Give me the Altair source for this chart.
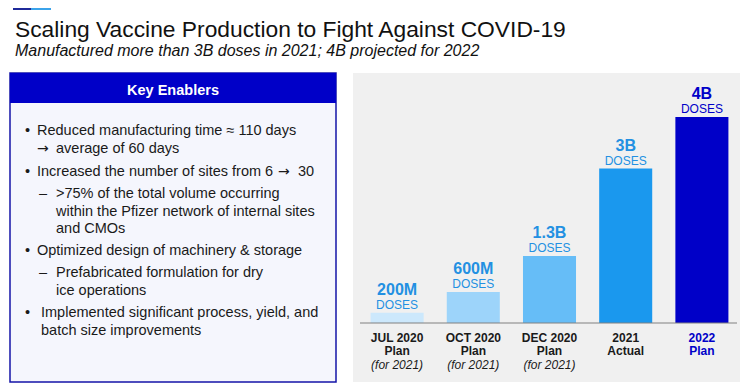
import altair as alt
import pandas as pd

# ---------------- data ----------------
CATEGORIES = ["JUL 2020", "OCT 2020", "DEC 2020", "2021", "2022"]
SUBLABELS = ["Plan", "Plan", "Plan", "Actual", "Plan"]
NOTES = ["(for 2021)", "(for 2021)", "(for 2021)", "", ""]
DOSES_B = [0.2, 0.6, 1.3, 3.0, 4.0]
VALUE_LABELS = ["200M", "600M", "1.3B", "3B", "4B"]
BAR_COLORS = ["#CCE8FC", "#9DD4FA", "#66BDF7", "#1A98EE", "#0000C8"]

TITLE = "Scaling Vaccine Production to Fight Against COVID-19"
SUBTITLE = "Manufactured more than 3B doses in 2021; 4B projected for 2022"
BOX_TITLE = "Key Enablers"
BLOCK_A1 = "Reduced manufacturing time \u2248 110 days"
BLOCK_A2 = "average of 60 days"
BLOCK_B1 = "Increased the number of sites from 6"
BLOCK_B2 = "30"
ARROW = "\u2192"
BLOCK_C = [">75% of the total volume occurring",
           "within the Pfizer network of internal sites", "and CMOs"]
BLOCK_D = ["Optimized design of machinery & storage"]
BLOCK_E = ["Prefabricated formulation for dry", "ice operations"]
BLOCK_F = ["Implemented significant process, yield, and", "batch size improvements"]

df = pd.DataFrame({
    "cat": CATEGORIES,
    "sub": SUBLABELS,
    "note": NOTES,
    "value": DOSES_B,
    "label": VALUE_LABELS,
})

FONT = "Liberation Sans"
DARK = "#0000C8"
LIGHT_TXT = "#2390E2"
TXT = "#1A1A1A"
BS = 14.5  # body size

one = alt.Data(values=[{"k": 0}])


def rect(x, x2, y, y2, fill, stroke=None, sw=0):
    kw = dict(fill=fill)
    if stroke:
        kw.update(stroke=stroke, strokeWidth=sw)
    return alt.Chart(one).mark_rect(**kw).encode(
        x=alt.value(x), x2=alt.value(x2), y=alt.value(y), y2=alt.value(y2))


def text(x, y, t, size=BS, color=TXT, weight="normal", style="normal",
         align="left", lh=18, font=FONT):
    return alt.Chart(one).mark_text(
        font=font, fontSize=size, color=color, fontWeight=weight,
        fontStyle=style, align=align, baseline="alphabetic", lineHeight=lh
    ).encode(x=alt.value(x), y=alt.value(y), text=alt.value(t))


# ---------------- decoration ----------------
layers = [
    rect(5, 23, 0, 2, "#1F2A9A"),
    rect(23, 43, 0, 2, "#3BA3EA"),
    text(7, 29, TITLE, size=22.8, color="#111111"),
    text(7, 47.5, SUBTITLE, size=16, color="#111111", style="italic"),
    # left box
    rect(2, 328, 65, 374, "#F5F6FD", stroke="#1414A8", sw=1.5),
    rect(2, 328, 65, 95, DARK),
    text(165, 87, BOX_TITLE, size=14.5, color="white", weight="bold", align="center"),
    text(17, 127, "\u2022"), text(29, 127, BLOCK_A1),
    text(29, 145, ARROW, size=14, font="DejaVu Sans"), text(48, 145, BLOCK_A2),
    text(17, 168, "\u2022"), text(29, 168, BLOCK_B1),
    text(270, 168, ARROW, size=14, font="DejaVu Sans"), text(290, 168, BLOCK_B2),
    text(31, 190, "\u2013"), text(48, 190, BLOCK_C, lh=17.5),
    text(17, 247, "\u2022"), text(29, 247, BLOCK_D),
    text(31, 269, "\u2013"), text(48, 269, BLOCK_E),
    text(17, 309, "\u2022"), text(33, 309, BLOCK_F),
    # right panel
    rect(345, 732, 65, 374, "#F0F0F0"),
]

# ---------------- bar chart ----------------
xs = alt.X("cat:N", sort=CATEGORIES, axis=None,
           scale=alt.Scale(range=[351, 732], paddingInner=0.304, paddingOuter=0.152))
ys = alt.Y("value:Q", axis=None, scale=alt.Scale(domain=[0, 4], range=[315, 109]))

base = alt.Chart(df)
is_last = alt.datum.cat == "2022"

bars = base.mark_bar().encode(
    x=xs, y=ys,
    color=alt.Color("cat:N", sort=CATEGORIES, legend=None,
                    scale=alt.Scale(domain=CATEGORIES, range=BAR_COLORS)))

val_txt = base.mark_text(font=FONT, fontSize=16, fontWeight="bold",
                         baseline="alphabetic", dy=-18).encode(
    x=xs, y=ys, text="label:N",
    color=alt.condition(is_last, alt.value(DARK), alt.value(LIGHT_TXT)))

doses_txt = base.mark_text(font=FONT, fontSize=12, baseline="alphabetic", dy=-4).encode(
    x=xs, y=ys, text=alt.value("DOSES"),
    color=alt.condition(is_last, alt.value(DARK), alt.value(LIGHT_TXT)))

axis_line = alt.Chart(one).mark_rule(color="#808080", strokeWidth=1).encode(
    x=alt.value(352), x2=alt.value(729), y=alt.value(315))

lab1 = base.mark_text(font=FONT, fontSize=12, fontWeight="bold", baseline="alphabetic").encode(
    x=xs, y=alt.value(334), text="cat:N",
    color=alt.condition(is_last, alt.value(DARK), alt.value(TXT)))
lab2 = base.mark_text(font=FONT, fontSize=12, fontWeight="bold", baseline="alphabetic").encode(
    x=xs, y=alt.value(347), text="sub:N",
    color=alt.condition(is_last, alt.value(DARK), alt.value(TXT)))
lab3 = base.mark_text(font=FONT, fontSize=12, fontStyle="italic", baseline="alphabetic").encode(
    x=xs, y=alt.value(361), text="note:N", color=alt.value(TXT))

chart = alt.layer(
    *layers, bars, val_txt, doses_txt, axis_line, lab1, lab2, lab3
).resolve_scale(x="shared", y="shared").properties(
    width=734, height=375, padding=0, autosize="none", background="white"
).configure_view(strokeWidth=0)

chart.save("out.html", embed_options={"renderer": "svg", "actions": False})
